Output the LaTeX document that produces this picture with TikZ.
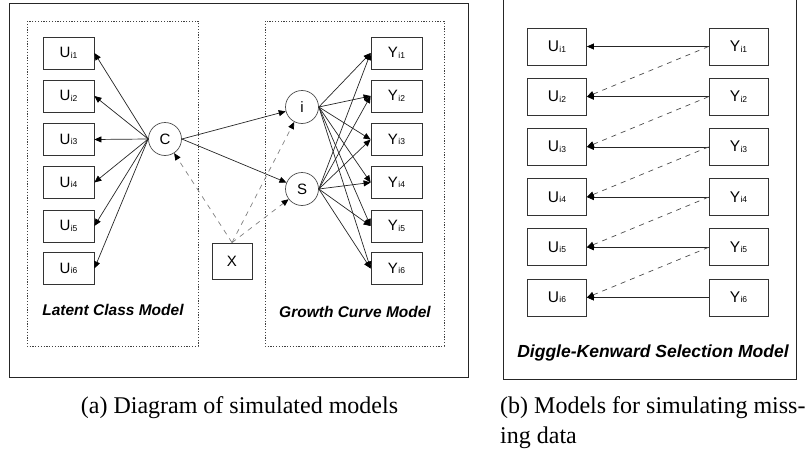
\documentclass[tikz,border=0pt]{standalone}
\usepackage{fontspec}
\setmainfont{Liberation Sans}
\newfontfamily\capfont{Liberation Serif}
\usetikzlibrary{arrows.meta}
\newcommand{\vlab}[2]{#1\kern0.4pt{\fontsize{8.5}{9}\selectfont\raisebox{-0.4pt}{#2}}}
\tikzset{
  vbox/.style={draw=black!80, line width=0.8pt, minimum width=51pt, minimum height=32pt, inner sep=0pt, font=\fontsize{15}{15}\selectfont},
  rbox/.style={vbox, minimum width=59pt, minimum height=37pt, font=\fontsize{15.5}{16}\selectfont},
  lat/.style={circle, draw=black!70, line width=0.7pt, minimum size=33pt, inner sep=0pt, font=\fontsize{15}{15}\selectfont},
  arr/.style={-{Triangle[length=7pt,width=6pt,color=black]}, line width=0.7pt, draw=black!85},
  gdash/.style={arr, dash pattern=on 5pt off 5pt, draw=black!50},
  rdash/.style={arr, dash pattern=on 5pt off 5pt, draw=black!70},
  dotbox/.style={draw=black!75, line width=0.8pt, dash pattern=on 1.2pt off 1.6pt},
  frame/.style={draw=black!85, line width=1pt},
  title/.style={font=\fontsize{15.5}{16}\selectfont\bfseries\itshape},
  capt/.style={font=\fontsize{24}{28}\selectfont\capfont, inner sep=0pt}
}
\begin{document}
\begin{tikzpicture}[x=1pt,y=-1pt]
\useasboundingbox (0,0) rectangle (806,455);
% ---------- panel (a) ----------
\draw[frame] (9,3) rectangle (468,377);
\draw[dotbox] (27,21) rectangle (198,346);
\draw[dotbox] (265,21) rectangle (444,346);
\foreach \k/\y in {1/53,2/96,3/139.5,4/182.5,5/226,6/268.5}{
  \node[vbox] (U\k) at (68.5,\y) {\vlab{U}{i\k}};
  \node[vbox] (Y\k) at (396.5,\y) {\vlab{Y}{i\k}};
}
\node[lat] (C) at (165,139) {C};
\node[lat] (I) at (302,107) {i};
\node[lat] (S) at (302,189) {S};
\node[draw=black!80, line width=0.8pt, minimum width=40pt, minimum height=36pt, inner sep=0pt, font=\fontsize{15}{15}\selectfont] (X) at (232,261) {X};
\foreach \k in {1,...,6}{
  \draw[arr] (C.west) -- (U\k.east);
  \draw[arr] (I.east) -- (Y\k.west);
  \draw[arr] (S.east) -- (Y\k.west);
}
\draw[arr] (C.east) -- (I);
\draw[arr] (C.east) -- (S);
\draw[gdash] (X.north) -- (C);
\draw[gdash] (X.north) -- (I);
\draw[gdash] (X.north) -- (S);
\node[title] (lct) at (113,310) {Latent Class Model};
\node[title] (gct) at (355,312) {Growth Curve Model};
% ---------- panel (b) ----------
\draw[frame] (503,-2) -- (503,379) -- (796,379) -- (796,-2);
\foreach \k/\y in {1/46.5,2/96.7,3/146.9,4/197.1,5/247.3,6/297.5}{
  \node[rbox] (RU\k) at (557,\y) {\vlab{U}{i\k}};
  \node[rbox] (RY\k) at (738.5,\y) {\vlab{Y}{i\k}};
}
\foreach \k in {1,...,6}{
  \draw[arr] (RY\k.west) -- (RU\k.east);
}
\foreach \k/\n in {1/2,2/3,3/4,4/5,5/6}{
  \draw[rdash] (RY\k.west) -- (RU\n.east);
}
\node[title, font=\fontsize{17.5}{18}\selectfont\bfseries\itshape] (dkt) at (653,353) {Diggle-Kenward Selection Model};
% ---------- captions ----------
\node[capt, anchor=base] (capa) at (239.5,413) {(a) Diagram of simulated models};
\node[capt, anchor=base west] (capb1) at (500,413) {(b) Models for simulating miss-};
\node[capt, anchor=base west] (capb2) at (500,443) {ing data};
\end{tikzpicture}
\end{document}
